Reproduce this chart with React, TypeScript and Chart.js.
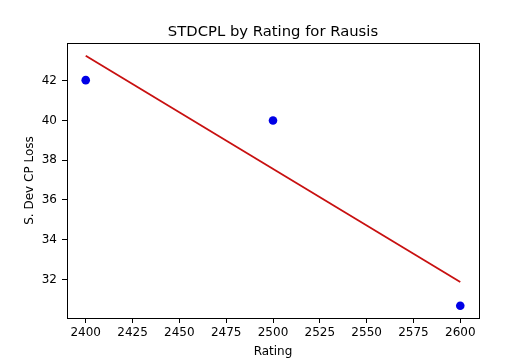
import React, { useEffect, useRef } from "react";
import { Chart, registerables } from "chart.js";

Chart.register(...registerables);

const ratings = [2400, 2500, 2600];
const stdCpl = [42.03, 40.0, 30.68];
const fitRatings = [2400, 2600];
const fitValues = [43.26, 31.87];
const xTicks = [2400, 2425, 2450, 2475, 2500, 2525, 2550, 2575, 2600];
const yTicks = [32, 34, 36, 38, 40, 42];
const titleText = "STDCPL by Rating for Rausis";

const FONT = "'DejaVu Sans', sans-serif";

const framePlugin = {
  id: "frame",
  afterDraw(chart: any) {
    const { ctx, chartArea } = chart;
    ctx.save();
    ctx.strokeStyle = "#000";
    ctx.lineWidth = 1;
    ctx.strokeRect(
      Math.round(chartArea.left) + 0.5,
      Math.round(chartArea.top) + 0.5,
      Math.round(chartArea.right - chartArea.left),
      Math.round(chartArea.bottom - chartArea.top)
    );
    ctx.font = `14.8px ${FONT}`;
    ctx.fillStyle = "#000";
    ctx.textAlign = "center";
    ctx.textBaseline = "alphabetic";
    ctx.fillText(titleText, (chartArea.left + chartArea.right) / 2, 36);
    ctx.restore();
  },
};

export default function App() {
  const ref = useRef<HTMLCanvasElement>(null);
  useEffect(() => {
    document.body.style.margin = "0";
    const chart = new Chart(ref.current!, {
      type: "scatter",
      data: {
        datasets: [
          {
            label: "fit",
            type: "line",
            data: fitRatings.map((x, i) => ({ x, y: fitValues[i] })),
            borderColor: "#c81010",
            borderWidth: 1.8,
            pointRadius: 0,
            fill: false,
            order: 1,
          },
          {
            label: "STDCPL",
            data: ratings.map((x, i) => ({ x, y: stdCpl[i] })),
            backgroundColor: "#0000e6",
            borderColor: "#0000e6",
            pointRadius: 4.3,
            borderWidth: 0,
            order: 0,
          },
        ],
      },
      options: {
        responsive: false,
        animation: false,
        layout: { padding: { left: 0, right: 53, top: 43, bottom: 0 } },
        plugins: {
          legend: { display: false },
          tooltip: { enabled: false },
          title: { display: false },
        },
        scales: {
          x: {
            type: "linear",
            min: 2390,
            max: 2610,
            afterFit(scale: any) {
              scale.height = 46;
            },
            afterBuildTicks(scale: any) {
              scale.ticks = xTicks.map((v) => ({ value: v }));
            },
            grid: {
              display: true,
              drawOnChartArea: false,
              drawTicks: true,
              tickLength: 5,
              tickColor: "#000",
            },
            border: { display: true, color: "#000" },
            ticks: {
              color: "#000",
              font: { family: FONT, size: 12 },
              padding: 3,
              maxRotation: 0,
              autoSkip: false,
              callback: (v: any) => String(v),
            },
            title: {
              display: true,
              text: "Rating",
              color: "#000",
              font: { family: FONT, size: 12 },
              padding: { top: 0, bottom: 5 },
            },
          },
          y: {
            type: "linear",
            min: 30.06,
            max: 43.9,
            afterFit(scale: any) {
              scale.width = 67;
            },
            afterBuildTicks(scale: any) {
              scale.ticks = yTicks.map((v) => ({ value: v }));
            },
            grid: {
              display: true,
              drawOnChartArea: false,
              drawTicks: true,
              tickLength: 5,
              tickColor: "#000",
            },
            border: { display: true, color: "#000" },
            ticks: {
              color: "#000",
              font: { family: FONT, size: 12 },
              padding: 5,
              autoSkip: false,
              callback: (v: any) => String(v),
            },
            title: {
              display: true,
              text: "S. Dev CP Loss",
              color: "#000",
              font: { family: FONT, size: 12 },
              padding: { top: 23, bottom: 0 },
            },
          },
        },
      },
      plugins: [framePlugin],
    });
    return () => chart.destroy();
  }, []);
  return (
    <div style={{ width: 532, height: 364, background: "#fff" }}>
      <canvas ref={ref} width={532} height={364} />
    </div>
  );
}
